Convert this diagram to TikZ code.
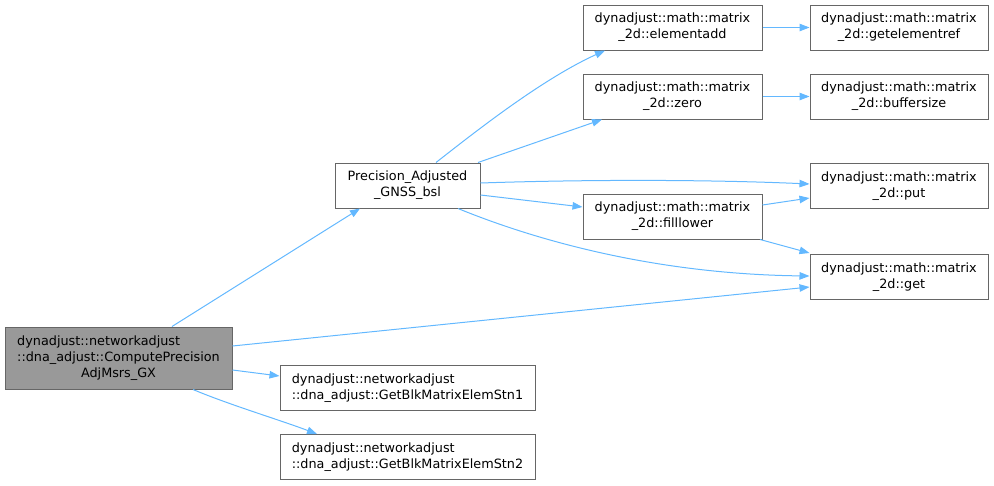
\documentclass[tikz,border=0pt]{standalone}
\usepackage{fontspec}
\setmainfont{DejaVu Sans}
\usetikzlibrary{arrows.meta,calc}
\definecolor{edgeblue}{HTML}{63B8FF}
\definecolor{boxgray}{HTML}{666666}
\definecolor{mainfill}{HTML}{999999}
\begin{document}
\begin{tikzpicture}[x=1pt,y=-1pt,
  box/.style={draw=boxgray,line width=1pt,fill=white,inner sep=0pt,
    minimum height=45pt,align=center,font=\fontsize{12.8}{16}\selectfont},
  mainbox/.style={box,fill=mainfill,minimum height=62pt},
  edge/.style={draw=edgeblue,line width=1pt,-{Triangle[length=10pt,width=7.5pt]}}]
\useasboundingbox (0,0) rectangle (994,485);

% nodes
\node[mainbox,minimum width=227pt] (main) at (118.5,358)
  {\begin{tabular}{@{}l@{}}dynadjust::networkadjust\\::dna\_adjust::ComputePrecision\\\multicolumn{1}{@{}c@{}}{AdjMsrs\_GX}\end{tabular}};
\node[box,minimum width=145pt] (prec) at (407.5,185.5) {Precision\_Adjusted\\\_GNSS\_bsl};
\node[box,minimum width=255pt] (blk1) at (407.5,388)
  {\begin{tabular}{@{}l@{}}dynadjust::networkadjust\\::dna\_adjust::GetBlkMatrixElemStn1\end{tabular}};
\node[box,minimum width=255pt] (blk2) at (407.5,457)
  {\begin{tabular}{@{}l@{}}dynadjust::networkadjust\\::dna\_adjust::GetBlkMatrixElemStn2\end{tabular}};
\node[box,minimum width=179pt] (eadd) at (672.5,27.5) {dynadjust::math::matrix\\\_2d::elementadd};
\node[box,minimum width=179pt] (zero) at (672.5,96.5) {dynadjust::math::matrix\\\_2d::zero};
\node[box,minimum width=179pt] (fill) at (672.5,216.5) {dynadjust::math::matrix\\\_2d::filllower};
\node[box,minimum width=178pt] (gref) at (899,27.5) {dynadjust::math::matrix\\\_2d::getelementref};
\node[box,minimum width=178pt] (bsize) at (899,96.5) {dynadjust::math::matrix\\\_2d::buffersize};
\node[box,minimum width=178pt] (put) at (899,186) {dynadjust::math::matrix\\\_2d::put};
\node[box,minimum width=178pt] (get) at (899,277) {dynadjust::math::matrix\\\_2d::get};

% edges
\draw[edge] ($(main.north)+(53.5,0)$) -- ($(prec.south)+(-47.5,0)$);
\draw[edge] ($(main.east)+(0,-12)$) -- ($(get.west)+(0,10)$);
\draw[edge] ($(main.east)+(0,12)$) -- ($(blk1.west)+(0,-12)$);
\draw[edge] ($(main.south)+(74.5,0)$) .. controls (230,405) and (280,420) .. ($(blk2.north)+(-90.5,0)$);
\draw[edge] ($(prec.north)+(28.5,0)$) .. controls (470,136) and (540,80) .. ($(eadd.south)+(-67.5,0)$);
\draw[edge] ($(prec.north)+(70.5,0)$) -- ($(zero.south)+(-70.5,0)$);
\draw[edge] ($(prec.east)+(0,-2.5)$) .. controls (600,179) and (720,180) .. ($(put.west)+(0,-2)$);
\draw[edge] ($(prec.east)+(0,9.5)$) -- ($(fill.west)+(0,-9.5)$);
\draw[edge] ($(prec.south)+(50.5,0)$) .. controls (530,238) and (650,274) .. ($(get.west)+(0,-1)$);
\draw[edge] ($(fill.east)+(0,-11.5)$) -- ($(put.west)+(0,12)$);
\draw[edge] ($(fill.south)+(87.5,0)$) -- ($(get.north west)+(0,-1)$);
\draw[edge] (eadd) -- (gref);
\draw[edge] (zero) -- (bsize);
\end{tikzpicture}
\end{document}
